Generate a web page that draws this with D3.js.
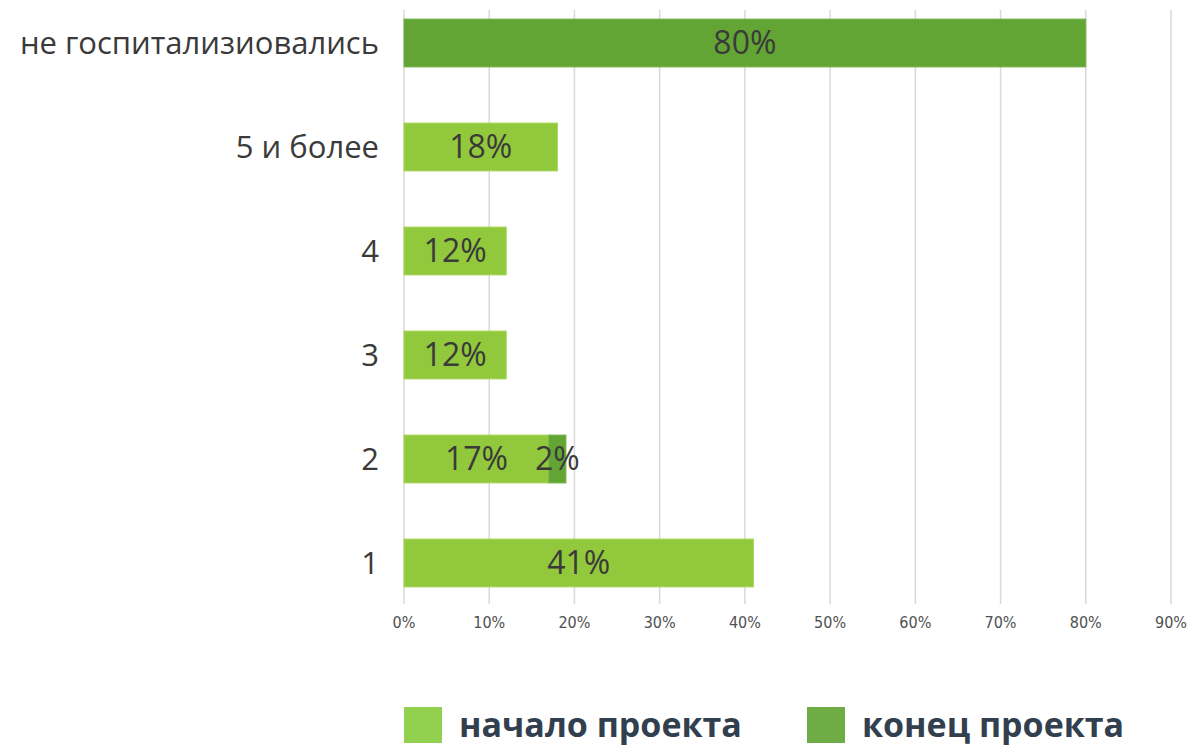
<!DOCTYPE html>
<html lang="ru">
<head>
<meta charset="UTF-8" />
<title>Госпитализации</title>
<script src="https://cdn.jsdelivr.net/npm/d3@7"></script>
<style>
  body { margin: 0; padding: 0; background: #fff; }
  svg { display: block; }
</style>
</head>
<body>
<script>
  const categories = ['не госпитализиовались', '5 и более', '4', '3', '2', '1'];
  const startValues = [0, 18, 12, 12, 17, 41];
  const endValues = [80, 0, 0, 0, 2, 0];
  const seriesNames = ['начало проекта', 'конец проекта'];
  const ticks = [0, 10, 20, 30, 40, 50, 60, 70, 80, 90];

  const width = 1196;
  const height = 746;
  const colors = ['#92c83b', '#62a535'];
  const legendColors = ['#92d050', '#6fac46'];

  const svg = d3.select('body').append('svg').attr('width', width).attr('height', height);

  const x = d3.scaleLinear().domain([0, 90]).range([404, 1171]);
  const y = d3.scaleBand().domain(categories).range([-9, 615]).paddingInner(0.54).paddingOuter(0.27);

  // gridlines
  svg.append('g')
    .selectAll('line')
    .data(ticks)
    .enter()
    .append('line')
    .attr('x1', (d) => x(d))
    .attr('x2', (d) => x(d))
    .attr('y1', 10)
    .attr('y2', 604)
    .attr('stroke', '#d9d9d9')
    .attr('stroke-width', 1.5);

  // tick labels
  svg.append('g')
    .selectAll('text')
    .data(ticks)
    .enter()
    .append('text')
    .attr('x', (d) => x(d))
    .attr('y', 628)
    .attr('text-anchor', 'middle')
    .attr('font-family', 'DejaVu Sans Condensed, DejaVu Sans, sans-serif')
    .attr('font-size', 16)
    .attr('fill', '#505050')
    .text((d) => d + '%');

  const rows = categories.map((c, i) => ({ cat: c, segs: [
    { s: 0, v: startValues[i], x0: 0 },
    { s: 1, v: endValues[i], x0: startValues[i] }
  ] }));

  const row = svg.append('g').selectAll('g').data(rows).enter().append('g');

  row.selectAll('rect')
    .data((d) => d.segs.filter((s) => s.v > 0))
    .enter()
    .append('rect')
    .attr('x', (d) => x(d.x0))
    .attr('width', (d) => x(d.x0 + d.v) - x(d.x0))
    .attr('y', function () { return y(d3.select(this.parentNode).datum().cat); })
    .attr('height', y.bandwidth())
    .attr('fill', (d) => colors[d.s])
    .attr('stroke', (d) => (d.s === 0 ? '#a6d65a' : '#74b049'))
    .attr('stroke-width', 1);

  row.selectAll('text.val')
    .data((d) => d.segs.filter((s) => s.v > 0).map((s) => Object.assign({ cat: d.cat }, s)))
    .enter()
    .append('text')
    .attr('class', 'val')
    .attr('x', (d) => x(d.x0 + d.v / 2))
    .attr('y', (d) => y(d.cat) + y.bandwidth() / 2 + 11)
    .attr('text-anchor', 'middle')
    .attr('font-family', 'Open Sans, sans-serif')
    .attr('font-size', 32)
    .attr('fill', '#3a3a3a')
    .text((d) => d.v + '%');

  // category labels
  svg.append('g')
    .selectAll('text')
    .data(categories)
    .enter()
    .append('text')
    .attr('x', 379)
    .attr('y', (d) => y(d) + y.bandwidth() / 2 + 11)
    .attr('text-anchor', 'end')
    .attr('font-family', 'Open Sans, sans-serif')
    .attr('font-size', 31)
    .attr('fill', '#3a3a3a')
    .text((d) => d);

  // legend
  const legendX = [404, 807];
  const legend = svg.append('g')
    .selectAll('g')
    .data(seriesNames)
    .enter()
    .append('g')
    .attr('transform', (d, i) => `translate(${legendX[i]},707)`);

  legend.append('rect')
    .attr('width', 38)
    .attr('height', 36)
    .attr('fill', (d, i) => legendColors[i]);

  legend.append('text')
    .attr('x', 55)
    .attr('y', 30)
    .attr('font-family', 'Open Sans, sans-serif')
    .attr('font-weight', 'bold')
    .attr('font-size', 34)
    .attr('fill', '#323f4f')
    .text((d) => d);
</script>
</body>
</html>
